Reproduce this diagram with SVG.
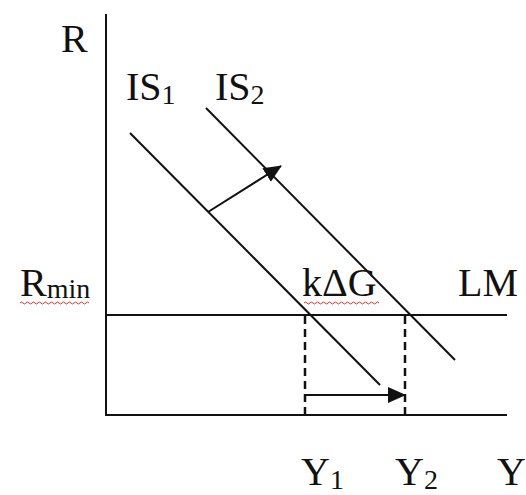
<svg xmlns="http://www.w3.org/2000/svg" width="526" height="495" viewBox="0 0 526 495">
<style>
.t{font-family:"Liberation Serif","Times New Roman",serif;font-size:40px;fill:#111}
.s{font-size:28px}
.ln{stroke:#111;stroke-width:2;fill:none}
.d{stroke:#111;stroke-width:2.5;stroke-dasharray:8,5;fill:none}
.sq{stroke:#e03030;stroke-width:1;fill:none}
</style>
<defs>
<marker id="ah2" markerWidth="18" markerHeight="18" refX="17" refY="9" orient="auto" markerUnits="userSpaceOnUse" viewBox="0 0 18 18">
<path d="M0,1 L18,9 L0,17 Z" fill="#111"/>
</marker>
</defs>
<g id="axes">
<line class="ln" x1="106" y1="14" x2="106" y2="415"/>
<line class="ln" x1="105" y1="415" x2="507" y2="415"/>
</g>
<g id="LM"><line class="ln" x1="106" y1="315" x2="507" y2="315"/></g>
<g id="IS1"><line class="ln" x1="130" y1="133" x2="380" y2="385"/></g>
<g id="IS2"><line class="ln" x1="206" y1="108" x2="455" y2="360"/></g>
<g id="connectors">
<line class="d" x1="305" y1="316" x2="305" y2="420"/>
<line class="d" x1="405" y1="316" x2="405" y2="420"/>
<line class="ln" x1="305" y1="395" x2="405" y2="395" marker-end="url(#ah2)"/>
<line class="ln" x1="208" y1="212" x2="281" y2="166" marker-end="url(#ah2)"/>
</g>
<g id="labels">
<text class="t" x="61" y="52">R</text>
<text class="t" x="126" y="100">IS<tspan class="s" dy="4">1</tspan></text>
<text class="t" x="215" y="100">IS<tspan class="s" dy="4">2</tspan></text>
<text class="t" x="20" y="296">R<tspan class="s" dy="2">min</tspan></text>
<text class="t" x="302" y="296">kΔG</text>
<text class="t" x="458" y="296">LM</text>
<text class="t" x="301" y="485">Y<tspan class="s" dy="4">1</tspan></text>
<text class="t" x="395" y="485">Y<tspan class="s" dy="4">2</tspan></text>
<text class="t" x="497" y="485">Y</text>
<path class="sq" d="M20,303 q1.5,-2 3,0 t3,0 t3,0 t3,0 t3,0 t3,0 t3,0 t3,0 t3,0 t3,0 t3,0 t3,0 t3,0 t3,0 t3,0 t3,0 t3,0 t3,0 t3,0 t3,0 t3,0 t3,0 t3,0"/>
<path class="sq" d="M304,303 q1.5,-2 3,0 t3,0 t3,0 t3,0 t3,0 t3,0 t3,0 t3,0 t3,0 t3,0 t3,0 t3,0 t3,0 t3,0 t3,0 t3,0 t3,0 t3,0 t3,0 t3,0 t3,0 t3,0 t3,0 t3,0 t3,0"/>
</g>
</svg>
